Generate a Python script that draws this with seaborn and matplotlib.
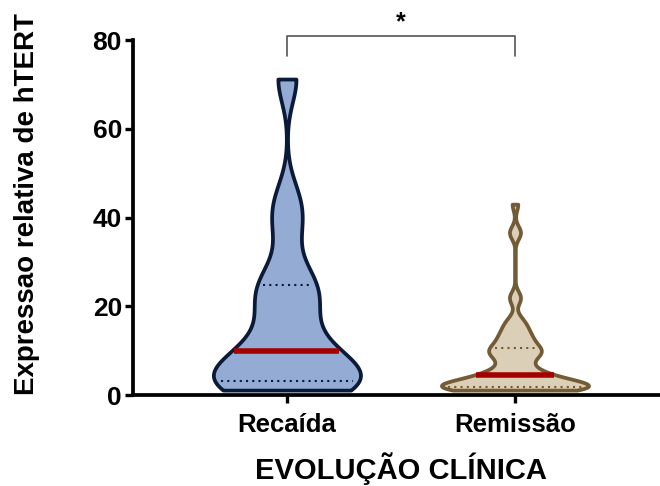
import numpy as np
import pandas as pd
import matplotlib
matplotlib.use("Agg")
import matplotlib.pyplot as plt
import seaborn as sns

# hTERT relative expression by clinical outcome
groups = ["Recaída", "Remissão"]
recaida = [1.1, 1.6, 2.2, 2.7, 3.15, 4.2, 6.0, 8.0, 10.0, 12.5, 18.5,
           21.0, 24.9, 27.0, 37.5, 44.0, 71.2]
remissao = [1.1, 1.15, 1.2, 1.25, 1.3, 1.35, 1.4, 1.45, 1.5, 1.55, 1.6,
            1.65, 1.7, 1.75, 1.8, 1.9,
            2.0, 2.1, 2.2, 2.3, 2.4, 2.5, 2.7, 2.9, 3.1, 3.3, 3.5, 3.8,
            4.0, 4.3, 4.5,
            4.7, 5.0, 5.4, 5.9, 6.5, 7.2, 8.0, 8.6, 9.0, 9.3, 9.6, 9.9,
            10.2, 10.4, 10.6,
            11.2, 11.8, 12.5, 12.9, 13.3, 14.0, 14.8, 15.5, 16.3, 17.3,
            21.6, 22.2, 36.3, 36.9, 43.0]
fills = ["#94ABD3", "#DCCFB7"]
edges = ["#0B1A38", "#735B35"]
kernel_bw = [5.2, 1.45]         # kernel width in data units
y_ticks = [0, 20, 40, 60, 80]
signif = "*"

sns.set_style("ticks")
plt.rcParams["font.family"] = ["Liberation Sans", "DejaVu Sans"]
plt.rcParams["font.weight"] = "bold"
for key in ("text.color", "axes.labelcolor", "xtick.color", "ytick.color"):
    plt.rcParams[key] = "black"

series = [recaida, remissao]
df = pd.DataFrame({
    "grupo": [g for g, s in zip(groups, series) for _ in s],
    "valor": [v for s in series for v in s],
})

W, H = 660, 486
fig = plt.figure(figsize=(W / 100, H / 100), dpi=100)
ax = fig.add_axes([133 / W, (H - 395) / H, (W - 133) / W, 355 / H])


def span_at(poly, y):
    v = poly.get_paths()[0].vertices
    xs = []
    for (x0, y0), (x1, y1) in zip(v[:-1], v[1:]):
        if y0 != y1 and (y0 - y) * (y1 - y) <= 0:
            xs.append(x0 + (y - y0) * (x1 - x0) / (y1 - y0))
    return min(xs), max(xs)


for i, g in enumerate(groups):
    vals = np.asarray(series[i], dtype=float)
    factor = kernel_bw[i] / np.std(vals, ddof=1)
    before = len(ax.collections)
    sns.violinplot(data=df[df["grupo"] == g], x="grupo", y="valor",
                   order=groups, cut=0, bw_method=factor, gridsize=300,
                   width=0.645, density_norm="width", inner=None,
                   color=fills[i], linewidth=2.7, linecolor=edges[i],
                   saturation=1, ax=ax)
    poly = ax.collections[before]
    poly.set_facecolor(fills[i])
    poly.set_edgecolor(edges[i])
    poly.set_joinstyle("round")
    q1, med, q3 = np.percentile(vals, [25, 50, 75])
    for q in (q1, q3):
        x0, x1 = span_at(poly, q)
        ax.plot([x0 + 0.025, x1 - 0.025], [q, q], color=edges[i],
                lw=1.5, ls=(0, (1, 2)), zorder=3)
    x0, x1 = span_at(poly, med)
    ax.plot([x0 + 0.012, x1 - 0.012], [med, med], color="#A50000",
            lw=4, solid_capstyle="butt", zorder=3)

ax.set_xlim(-0.675, 1.636)
ax.set_ylim(0, 80)
ax.set_yticks(y_ticks)
ax.set_xlabel("")
ax.set_ylabel("")
ax.tick_params(axis="both", width=2.4, length=6, color="black")
ax.tick_params(axis="x", labelsize=18.5, pad=7)
ax.tick_params(axis="y", labelsize=19, pad=2)
for lab in ax.get_xticklabels() + ax.get_yticklabels():
    lab.set_fontweight("bold")
sns.despine(ax=ax, top=True, right=True)
for s in ("left", "bottom"):
    ax.spines[s].set_linewidth(2.7)
    ax.spines[s].set_color("black")

fig.text(401 / W, (H - 479) / H, "EVOLUÇÃO CLÍNICA", fontsize=21,
         fontweight="bold", ha="center", va="baseline")
fig.text(34 / W, (H - 204) / H, "Expressao relativa de hTERT", fontsize=20,
         fontweight="bold", ha="center", va="baseline", rotation=90,
         rotation_mode="anchor")

# significance bracket
ax.plot([0, 0, 1, 1], [76.3, 80.9, 80.9, 76.3], color="#555555", lw=1.2,
        clip_on=False)
ax.text(0.5, 82.3, signif, ha="center", va="baseline", fontsize=18,
        fontweight="bold", clip_on=False)

fig.savefig("out.png", dpi=100)
